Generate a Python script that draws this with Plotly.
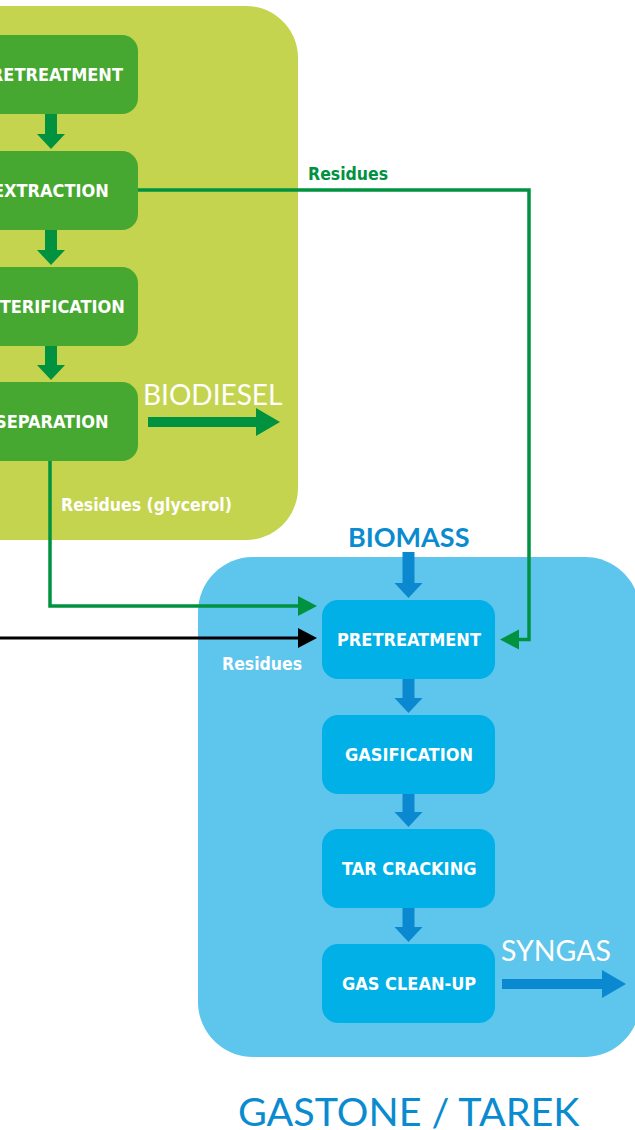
import plotly.graph_objects as go

# ---- diagram content ----
green_steps = ["PRETREATMENT", "EXTRACTION", "ESTERIFICATION", "SEPARATION"]
blue_steps = ["PRETREATMENT", "GASIFICATION", "TAR CRACKING", "GAS CLEAN-UP"]
green_output = "BIODIESEL"
blue_output = "SYNGAS"
blue_input = "BIOMASS"
residue_labels = ["Residues", "Residues (glycerol)", "Residues"]
title_text = "GASTONE / TAREK"

# ---- geometry (pixel space, y downward) ----
W, H = 635, 1130
g_tops = [35, 151, 267, 382]
g_h = 79
g_x0, g_x1, g_cx = -40, 138, 51
b_tops = [600, 715, 829, 944]
b_h = 79
b_x0, b_x1, b_cx = 322, 495, 408.5

C_GPANEL = "#c5d44f"
C_GBOX = "#46a830"
C_GARROW = "#00923f"
C_BPANEL = "#5ec5ec"
C_BBOX = "#00b0e6"
C_BARROW = "#0a89d0"
C_TITLE = "#0a8bd0"

COND = "DejaVu Sans Condensed, Liberation Sans Narrow, sans-serif"
REG = "Lato, Open Sans, sans-serif"


def rrect(x0, y0, x1, y1, r):
    k = 0.45 * r
    return (f"M {x0+r},{y0} L {x1-r},{y0} C {x1-k},{y0} {x1},{y0+k} {x1},{y0+r} "
            f"L {x1},{y1-r} C {x1},{y1-k} {x1-k},{y1} {x1-r},{y1} "
            f"L {x0+r},{y1} C {x0+k},{y1} {x0},{y1-k} {x0},{y1-r} "
            f"L {x0},{y0+r} C {x0},{y0+k} {x0+k},{y0} {x0+r},{y0} Z")


def down_arrow(cx, y0, y1, sw=6, hw=14, hl=15):
    yh = y1 - hl
    return (f"M {cx-sw},{y0} L {cx+sw},{y0} L {cx+sw},{yh} L {cx+hw},{yh} "
            f"L {cx},{y1} L {cx-hw},{yh} L {cx-sw},{yh} Z")


def right_arrow(x0, x1, cy, sw=5, hw=14, hl=24):
    xh = x1 - hl
    return (f"M {x0},{cy-sw} L {xh},{cy-sw} L {xh},{cy-hw} L {x1},{cy} "
            f"L {xh},{cy+hw} L {xh},{cy+sw} L {x0},{cy+sw} Z")


def tri(tipx, cy, direction, hl=19, hw=10):
    bx = tipx - hl * direction
    return f"M {tipx},{cy} L {bx},{cy-hw} L {bx},{cy+hw} Z"


shapes = []
annotations = []

# panels
shapes.append(dict(type="path", path=rrect(-80, 6, 298, 540, 52),
                   fillcolor=C_GPANEL, line=dict(width=0), layer="below"))
shapes.append(dict(type="path", path=rrect(198, 557, 640, 1057, 55),
                   fillcolor=C_BPANEL, line=dict(width=0), layer="below"))

# residue lines
lw = 3.5
ext_y = g_tops[1] + g_h / 2 - 0.5
res_y = b_tops[0] + b_h / 2
shapes.append(dict(type="path",
                   path=f"M {g_x1},{ext_y} L 529,{ext_y} L 529,{res_y} L 515,{res_y}",
                   line=dict(color=C_GARROW, width=lw)))
shapes.append(dict(type="path", path=tri(500, res_y, -1), fillcolor=C_GARROW, line=dict(width=0)))
gly_y = 606
shapes.append(dict(type="path",
                   path=f"M {g_cx-1},{g_tops[3]+g_h} L {g_cx-1},{gly_y} L 302,{gly_y}",
                   line=dict(color=C_GARROW, width=lw)))
shapes.append(dict(type="path", path=tri(317, gly_y, 1), fillcolor=C_GARROW, line=dict(width=0)))
blk_y = 638
shapes.append(dict(type="line", x0=-5, x1=302, y0=blk_y, y1=blk_y,
                   line=dict(color="black", width=3.2)))
shapes.append(dict(type="path", path=tri(317, blk_y, 1), fillcolor="black", line=dict(width=0)))

# green boxes + arrows
for i, (lab, t) in enumerate(zip(green_steps, g_tops)):
    shapes.append(dict(type="path", path=rrect(g_x0, t, g_x1, t + g_h, 16),
                       fillcolor=C_GBOX, line=dict(width=0)))
    annotations.append(dict(x=g_cx, y=t + g_h / 2, text=f"<b>{lab}</b>", showarrow=False,
                            xanchor="center", yanchor="middle",
                            font=dict(family=COND, size=18, color="white")))
    if i < len(green_steps) - 1:
        shapes.append(dict(type="path", path=down_arrow(g_cx, t + g_h, g_tops[i + 1] - 2),
                           fillcolor=C_GARROW, line=dict(width=0)))

# blue boxes + arrows
for i, (lab, t) in enumerate(zip(blue_steps, b_tops)):
    shapes.append(dict(type="path", path=rrect(b_x0, t, b_x1, t + b_h, 16),
                       fillcolor=C_BBOX, line=dict(width=0)))
    annotations.append(dict(x=b_cx, y=t + b_h / 2, text=f"<b>{lab}</b>", showarrow=False,
                            xanchor="center", yanchor="middle",
                            font=dict(family=COND, size=18, color="white")))
    if i < len(blue_steps) - 1:
        shapes.append(dict(type="path", path=down_arrow(b_cx, t + b_h, b_tops[i + 1] - 2),
                           fillcolor=C_BARROW, line=dict(width=0)))

# biomass input arrow
shapes.append(dict(type="path", path=down_arrow(b_cx, 552, 598),
                   fillcolor=C_BARROW, line=dict(width=0)))
annotations.append(dict(x=b_cx, y=536, text=f"<b>{blue_input}</b>", showarrow=False,
                        font=dict(family=REG, size=27, color=C_TITLE)))

# outputs
shapes.append(dict(type="path", path=right_arrow(148, 280, 422),
                   fillcolor=C_GARROW, line=dict(width=0)))
annotations.append(dict(x=212, y=394, text=green_output, showarrow=False,
                        font=dict(family=REG, size=28, color="white")))
shapes.append(dict(type="path", path=right_arrow(502, 626, 984),
                   fillcolor=C_BARROW, line=dict(width=0)))
annotations.append(dict(x=556, y=950, text=blue_output, showarrow=False,
                        font=dict(family=REG, size=28.5, color="white")))

# residue labels
annotations.append(dict(x=348, y=174, text=f"<b>{residue_labels[0]}</b>", showarrow=False,
                        font=dict(family=COND, size=17.5, color=C_GARROW)))
annotations.append(dict(x=146, y=505, text=f"<b>{residue_labels[1]}</b>", showarrow=False,
                        font=dict(family=COND, size=17.5, color="white")))
annotations.append(dict(x=262, y=664, text=f"<b>{residue_labels[2]}</b>", showarrow=False,
                        font=dict(family=COND, size=17.5, color="white")))

# title
annotations.append(dict(x=409, y=1110, text=title_text, showarrow=False,
                        font=dict(family=REG, size=39.5, color=C_TITLE)))

for a in annotations:
    a.update(xref="x", yref="y")

fig = go.Figure()
fig.update_layout(
    width=W, height=H, margin=dict(l=0, r=0, t=0, b=0),
    paper_bgcolor="white", plot_bgcolor="white",
    xaxis=dict(range=[0, W], visible=False, fixedrange=True),
    yaxis=dict(range=[H, 0], visible=False, fixedrange=True),
    shapes=shapes, annotations=annotations, showlegend=False,
)
fig.write_html("out.html", config={"displayModeBar": False},
               post_script="document.body.style.margin='0';document.body.style.overflow='hidden';")
